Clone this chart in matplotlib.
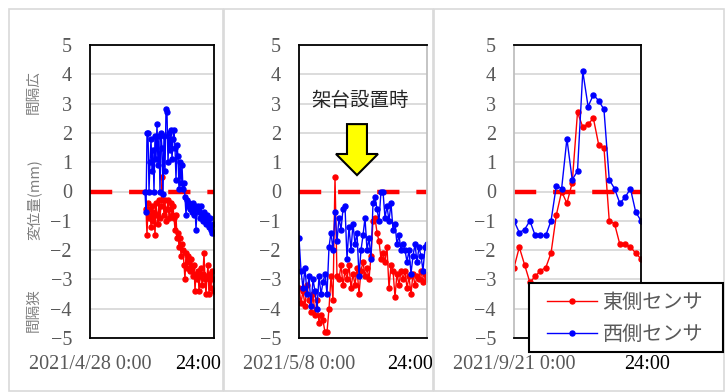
import numpy as np
import matplotlib
matplotlib.use("Agg")
import matplotlib.pyplot as plt
from matplotlib.patches import Rectangle, Polygon

plt.rcParams['font.family'] = ['Liberation Serif', 'Noto Sans CJK JP']

# ---- data (displacement in mm) ----
# panel 1: 2021/4/28, sample index on a 0..124 axis
p1_blue_start = 55
p1_blue = [0.0, -0.7, 2.0, 2.0, 0.0, 1.0, 1.8, 0.7, 1.4, 0.0,
           1.9, 1.1, 2.3, 0.9, 1.9, 0.0, 2.0, 1.5, -0.1, 1.9,
           0.7, 2.8, 2.7, 1.0, 2.0, 1.4, 2.1, 1.1, 1.8, 2.1,
           1.5, 0.4, 1.6, 1.2, 0.1, 1.0, 0.3, 0.9, 0.1, 0.3,
           -0.2, -0.8, -0.3, -0.5, -0.4, -0.6, -0.5, -0.7, -0.4, -0.8,
           -0.5, -1.3, -0.6, -0.5, -0.7, -0.9, -0.5, -0.8, -1.0, -0.7,
           -0.9, -1.1, -0.8, -1.0, -1.2, -0.9, -1.3, -1.4, -1.1, -1.4]
p1_red_start = 56
p1_red = [-0.6, -1.5, -0.4, -0.9, -0.6, -1.2, -0.5, -1.0, -0.7, -1.5,
          -0.4, -0.8, -1.1, -0.3, -0.9, -0.5, 0.5, -0.3, -0.8, -0.3,
          -1.0, -0.6, -0.3, -0.9, -0.6, -0.4, -0.8, -0.5, -0.9, -1.3,
          -0.8, -1.6, -1.4, -1.9, -1.6, -2.2, -1.8, -2.0, -2.5, -3.0,
          -2.1, -2.6, -2.2, -2.4, -2.7, -2.3, -2.6, -2.9, -2.5, -3.4,
          -2.8, -3.0, -2.7, -3.4, -2.9, -2.6, -3.2, -2.8, -2.1, -3.0,
          -3.5, -2.9, -2.5, -3.5, -2.8, -3.3, -2.7, -3.0, -3.4]

# panel 2: 2021/5/8, sample index on a 0..64 axis
p2_blue = [-1.6, -2.7, -3.3, -2.6, -3.5, -2.9, -3.9, -3.0, -3.4, -4.0,
           -2.9, -3.5, -3.1, -2.8, -3.5, -1.9, -1.4, -2.0, -0.7, -1.7,
           -0.9, -1.3, -0.6, -0.5, -2.3, -1.2, -2.0, -1.1, -1.8, -1.4,
           -2.9, -2.0, -1.5, -0.9, -2.0, -1.6, -2.3, -0.4, -0.2, -0.6,
           -1.0, 0.0, 0.0, -0.9, -0.5, -1.0, -0.4, -1.3, -1.1, -1.8,
           -1.5, -2.0, -1.8, -2.0, -2.4, -2.0, -2.8, -2.2, -1.8, -2.4,
           -1.9, -2.2, -2.7, -1.9, -1.8]
p2_red = [-3.3, -3.8, -3.4, -3.9, -3.2, -3.7, -4.1, -3.5, -4.2, -3.7,
          -4.5, -4.2, -4.4, -4.8, -4.8, -4.0, -2.9, -3.7, 0.5, -2.9,
          -3.0, -2.5, -3.2, -2.7, -3.0, -2.5, -3.3, -2.8, -3.2, -2.6,
          -3.5, -2.7, -2.4, -2.9, -2.6, -3.0, -2.2, -1.0, -0.9, -1.4,
          -1.7, -2.3, -2.1, -2.4, -1.9, -3.3, -2.5, -2.7, -3.6, -2.8,
          -3.2, -2.7, -3.0, -2.7, -3.3, -2.9, -3.5, -2.8, -3.2, -2.9,
          -3.0, -2.7, -3.1, -2.8, -3.0]

# panel 3: 2021/9/21, hourly
p3_hours = list(range(25))
p3_red = [-2.6, -1.9, -2.5, -3.1, -2.9, -2.7, -2.6, -2.1, -0.8, 0.0,
          -0.4, 0.3, 2.7, 2.2, 2.3, 2.5, 1.6, 1.5, -1.0, -1.1,
          -1.8, -1.8, -1.9, -2.1, -2.3]
p3_blue = [-1.0, -1.4, -1.3, -1.0, -1.5, -1.5, -1.5, -1.0, 0.2, 0.1,
           1.8, 0.4, 0.7, 4.1, 2.9, 3.3, 3.1, 2.8, 0.4, 0.1,
           -0.4, -0.2, 0.1, -0.7, -1.0]

dates = ["2021/4/28 0:00", "2021/5/8 0:00", "2021/9/21 0:00"]
names = ["東側センサ", "西側センサ"]
yticks = list(range(-5, 6))

W, H = 726, 392
GRAY = '#595959'


def box(x0, y0, x1, y1):
    return [x0 / W, 1 - y1 / H, (x1 - x0) / W, (y1 - y0) / H]


fig = plt.figure(figsize=(W / 100, H / 100), dpi=100)

# chart frames
for x0, x1 in [(9, 223), (224, 433), (434, 724)]:
    fig.patches.append(Rectangle((x0 / W, 0.002), (x1 - x0) / W, 1 - 9 / H - 0.002,
                                 transform=fig.transFigure, fill=False,
                                 edgecolor='#d9d9d9', lw=1.2, zorder=0.5))

ax1 = fig.add_axes(box(90, 45, 214, 338))
ax2 = fig.add_axes(box(299, 45, 427, 338))
ax3 = fig.add_axes(box(514, 45, 641, 338))

line_kw = dict(lw=1.0, marker='o', ms=3.6)

x1b = p1_blue_start + np.arange(len(p1_blue))
x1r = p1_red_start + np.arange(len(p1_red))
ax1.plot(x1r, p1_red, color='red', **line_kw)
ax1.plot(x1b, p1_blue, color='blue', **line_kw)
ax1.set_xlim(0, 124)

x2 = np.arange(len(p2_blue))
ax2.plot(x2, p2_red, color='red', **line_kw)
ax2.plot(x2, p2_blue, color='blue', **line_kw)
ax2.set_xlim(0, 64)

h_red, = ax3.plot(p3_hours, p3_red, color='red', **line_kw)
h_blue, = ax3.plot(p3_hours, p3_blue, color='blue', **line_kw)
ax3.set_xlim(0, 24)

end_pos = [0.871, 0.867, 1.047]
for ax, d, ep in zip([ax1, ax2, ax3], dates, end_pos):
    ax.axhline(0, color='red', lw=3.2, dashes=(5, 3.8), zorder=1.5)
    ax.set_ylim(-5, 5)
    ax.set_yticks(yticks)
    ax.grid(axis='y', color='#d9d9d9', lw=1.3)
    ax.set_axisbelow(True)
    ax.set_xticks([ax.get_xlim()[0]])
    ax.set_xticklabels([d])
    ax.tick_params(length=0, labelsize=14.5, labelcolor=GRAY)
    ax.tick_params(axis='y', pad=13)
    ax.tick_params(axis='x', pad=12.5)
    for s in ax.spines.values():
        s.set_color('black')
        s.set_linewidth(1.3)
    ax.text(ep, -0.059, "24:00", transform=ax.transAxes, ha='center', va='top',
            fontsize=14.5, color='black')

ax2.spines['right'].set_color('#bfbfbf')
ax3.spines['left'].set_color('#bfbfbf')

# y axis captions
cap_kw = dict(rotation=90, ha='center', va='center', fontsize=10.5,
              color='#7f7f7f', family=['Noto Sans CJK JP'])
fig.text(34 / W, 1 - 200 / H, "変位量(mm)", **cap_kw)
fig.text(34 / W, 1 - 92 / H, "間隔広", **cap_kw)
fig.text(34 / W, 1 - 310 / H, "間隔狭", **cap_kw)

# annotation on panel 2
ax2.text(0.477, 0.812, "架台設置時", transform=ax2.transAxes, ha='center', va='center',
         fontsize=14, color='#262626', family=['Noto Sans CJK JP'])
arrow = Polygon([(0.375, 0.730), (0.531, 0.730), (0.531, 0.628), (0.617, 0.628),
                 (0.453, 0.556), (0.289, 0.628), (0.375, 0.628)],
                closed=True, transform=ax2.transAxes, facecolor='#ffff00',
                edgecolor='black', lw=1.5, zorder=5, clip_on=False)
ax2.add_patch(arrow)

# legend with a hand-sized box
fig.patches.append(Rectangle((529 / W, 1 - 352 / H), 194 / W, 69 / H,
                             transform=fig.transFigure, facecolor='white',
                             edgecolor='black', lw=1.5, zorder=4))
leg = fig.legend([h_red, h_blue], names, loc='upper left',
                 bbox_to_anchor=(547 / W, 1 - 292 / H), frameon=False,
                 prop={'family': 'Noto Sans CJK JP', 'size': 14.5},
                 handlelength=2.5, handletextpad=0.25, labelspacing=0.55,
                 borderpad=0, borderaxespad=0)
leg.set_zorder(5)
for t in leg.get_texts():
    t.set_color(GRAY)

fig.savefig("out.png", dpi=100)
